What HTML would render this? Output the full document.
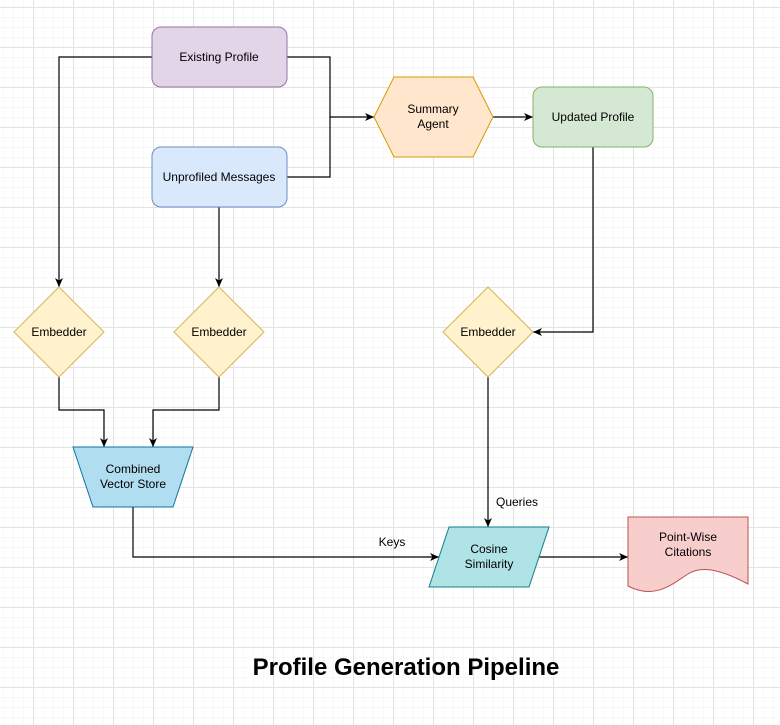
<!DOCTYPE html>
<html><head><meta charset="utf-8"><style>
html,body{margin:0;padding:0;background:#fff;}
svg{display:block;font-family:"Liberation Sans",Arial,sans-serif;}
</style></head><body>
<svg width="780" height="725" viewBox="0 0 780 725" xmlns="http://www.w3.org/2000/svg">
<defs>
<pattern id="minor" x="3" y="7" width="10" height="10" patternUnits="userSpaceOnUse">
<path d="M0 0H10M0 0V10" stroke="#f2f2f2" stroke-width="1" fill="none"/>
</pattern>
<pattern id="major" x="33" y="7" width="40" height="40" patternUnits="userSpaceOnUse">
<path d="M0 0.5H40M0.5 0V40" stroke="#e3e3e3" stroke-width="1" fill="none"/>
</pattern>
<marker id="a" markerWidth="10" markerHeight="10" refX="9" refY="5" orient="auto" markerUnits="userSpaceOnUse">
<path d="M0 1L9 5L0 9L2.5 5Z" fill="#000"/>
</marker>
</defs>
<rect width="780" height="725" fill="url(#minor)"/>
<rect width="780" height="725" fill="url(#major)"/>

<g fill="none" stroke="#000" stroke-width="1.2">
<path d="M152 57H59V287" marker-end="url(#a)"/>
<path d="M287 57H330V117H374" marker-end="url(#a)"/>
<path d="M287 177H330V117"/>
<path d="M219 207V287" marker-end="url(#a)"/>
<path d="M493 117H533" marker-end="url(#a)"/>
<path d="M593 147V332H533" marker-end="url(#a)"/>
<path d="M59 377V410H104V447" marker-end="url(#a)"/>
<path d="M219 377V410H153V447" marker-end="url(#a)"/>
<path d="M133 507V557H439" marker-end="url(#a)"/>
<path d="M488 377V527" marker-end="url(#a)"/>
<path d="M539 557H628" marker-end="url(#a)"/>
</g>

<rect x="152" y="27" width="135" height="60" rx="9" fill="#e1d5e7" stroke="#9673a6"/>
<rect x="152" y="147" width="135" height="60" rx="9" fill="#dae8fc" stroke="#6c8ebf"/>
<polygon points="374,117 394,77 473,77 493,117 473,157 394,157" fill="#ffe6cc" stroke="#d79b00"/>
<rect x="533" y="87" width="120" height="60" rx="9" fill="#d5e8d4" stroke="#82b366"/>
<polygon points="59,287 104,332 59,377 14,332" fill="#fff2cc" stroke="#d6b656"/>
<polygon points="219,287 264,332 219,377 174,332" fill="#fff2cc" stroke="#d6b656"/>
<polygon points="488,287 533,332 488,377 443,332" fill="#fff2cc" stroke="#d6b656"/>
<polygon points="73,447 193,447 173,507 93,507" fill="#b1ddf0" stroke="#10739e"/>
<polygon points="449,527 549,527 529,587 429,587" fill="#b0e3e6" stroke="#0e8088"/>
<path d="M628 517H748V584C718 568 700 566 688 574C672 584 655 600 628 586Z" fill="#f8cecc" stroke="#b85450"/>

<g font-size="12" fill="#000" text-anchor="middle">
<text x="219" y="61">Existing Profile</text>
<text x="219" y="181">Unprofiled Messages</text>
<text x="433" y="113">Summary</text>
<text x="433" y="128">Agent</text>
<text x="593" y="121">Updated Profile</text>
<text x="59" y="336">Embedder</text>
<text x="219" y="336">Embedder</text>
<text x="488" y="336">Embedder</text>
<text x="133" y="473">Combined</text>
<text x="133" y="488">Vector Store</text>
<text x="489" y="553">Cosine</text>
<text x="489" y="568">Similarity</text>
<text x="688" y="541">Point-Wise</text>
<text x="688" y="556">Citations</text>
<text x="392" y="546">Keys</text>
<text x="517" y="506">Queries</text>
</g>
<text x="406" y="675" font-size="24" font-weight="bold" text-anchor="middle">Profile Generation Pipeline</text>
</svg>
</body></html>
